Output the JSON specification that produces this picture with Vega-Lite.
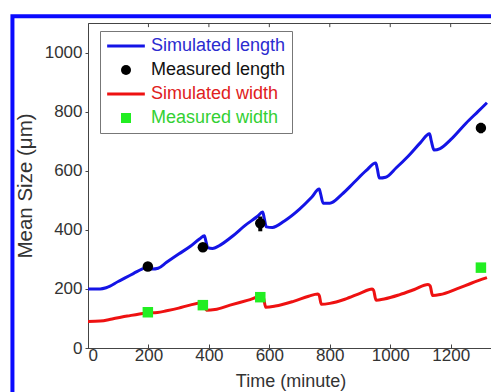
{
  "$schema": "https://vega.github.io/schema/vega-lite/v6.json",
  "autosize": {"type": "none"},
  "padding": {"left": 88, "top": 23, "right": 0, "bottom": 44},
  "width": 405,
  "height": 325,
  "background": "white",
  "config": {
    "view": {"stroke": "#444", "strokeWidth": 1},
    "font": "Liberation Sans"
  },
  "datasets": {
    "sim": [
      {"t": 0, "v": 200, "series": "Simulated length"},
      {"t": 40, "v": 200, "series": "Simulated length"},
      {"t": 60, "v": 204, "series": "Simulated length"},
      {"t": 100, "v": 225, "series": "Simulated length"},
      {"t": 150, "v": 252, "series": "Simulated length"},
      {"t": 190, "v": 272, "series": "Simulated length"},
      {"t": 200, "v": 275, "series": "Simulated length"},
      {"t": 212, "v": 267, "series": "Simulated length"},
      {"t": 232, "v": 270, "series": "Simulated length"},
      {"t": 260, "v": 290, "series": "Simulated length"},
      {"t": 300, "v": 318, "series": "Simulated length"},
      {"t": 340, "v": 345, "series": "Simulated length"},
      {"t": 370, "v": 370, "series": "Simulated length"},
      {"t": 385, "v": 380, "series": "Simulated length"},
      {"t": 390, "v": 362, "series": "Simulated length"},
      {"t": 396, "v": 340, "series": "Simulated length"},
      {"t": 412, "v": 337, "series": "Simulated length"},
      {"t": 440, "v": 350, "series": "Simulated length"},
      {"t": 480, "v": 380, "series": "Simulated length"},
      {"t": 520, "v": 415, "series": "Simulated length"},
      {"t": 560, "v": 445, "series": "Simulated length"},
      {"t": 578, "v": 460, "series": "Simulated length"},
      {"t": 583, "v": 440, "series": "Simulated length"},
      {"t": 590, "v": 410, "series": "Simulated length"},
      {"t": 610, "v": 408, "series": "Simulated length"},
      {"t": 650, "v": 430, "series": "Simulated length"},
      {"t": 700, "v": 470, "series": "Simulated length"},
      {"t": 740, "v": 510, "series": "Simulated length"},
      {"t": 765, "v": 538, "series": "Simulated length"},
      {"t": 770, "v": 520, "series": "Simulated length"},
      {"t": 778, "v": 490, "series": "Simulated length"},
      {"t": 800, "v": 490, "series": "Simulated length"},
      {"t": 840, "v": 520, "series": "Simulated length"},
      {"t": 880, "v": 560, "series": "Simulated length"},
      {"t": 920, "v": 600, "series": "Simulated length"},
      {"t": 952, "v": 626, "series": "Simulated length"},
      {"t": 957, "v": 608, "series": "Simulated length"},
      {"t": 964, "v": 575, "series": "Simulated length"},
      {"t": 985, "v": 578, "series": "Simulated length"},
      {"t": 1020, "v": 610, "series": "Simulated length"},
      {"t": 1060, "v": 650, "series": "Simulated length"},
      {"t": 1100, "v": 695, "series": "Simulated length"},
      {"t": 1130, "v": 725, "series": "Simulated length"},
      {"t": 1136, "v": 700, "series": "Simulated length"},
      {"t": 1145, "v": 670, "series": "Simulated length"},
      {"t": 1165, "v": 675, "series": "Simulated length"},
      {"t": 1200, "v": 705, "series": "Simulated length"},
      {"t": 1250, "v": 760, "series": "Simulated length"},
      {"t": 1290, "v": 800, "series": "Simulated length"},
      {"t": 1320, "v": 830, "series": "Simulated length"},
      {"t": 0, "v": 90, "series": "Simulated width"},
      {"t": 40, "v": 91, "series": "Simulated width"},
      {"t": 80, "v": 98, "series": "Simulated width"},
      {"t": 130, "v": 108, "series": "Simulated width"},
      {"t": 190, "v": 118, "series": "Simulated width"},
      {"t": 230, "v": 120, "series": "Simulated width"},
      {"t": 260, "v": 126, "series": "Simulated width"},
      {"t": 300, "v": 135, "series": "Simulated width"},
      {"t": 340, "v": 146, "series": "Simulated width"},
      {"t": 375, "v": 152, "series": "Simulated width"},
      {"t": 383, "v": 150, "series": "Simulated width"},
      {"t": 392, "v": 128, "series": "Simulated width"},
      {"t": 420, "v": 130, "series": "Simulated width"},
      {"t": 470, "v": 145, "series": "Simulated width"},
      {"t": 530, "v": 162, "series": "Simulated width"},
      {"t": 575, "v": 175, "series": "Simulated width"},
      {"t": 580, "v": 172, "series": "Simulated width"},
      {"t": 588, "v": 138, "series": "Simulated width"},
      {"t": 620, "v": 142, "series": "Simulated width"},
      {"t": 680, "v": 158, "series": "Simulated width"},
      {"t": 730, "v": 175, "series": "Simulated width"},
      {"t": 760, "v": 183, "series": "Simulated width"},
      {"t": 765, "v": 178, "series": "Simulated width"},
      {"t": 772, "v": 148, "series": "Simulated width"},
      {"t": 800, "v": 151, "series": "Simulated width"},
      {"t": 850, "v": 165, "series": "Simulated width"},
      {"t": 900, "v": 185, "series": "Simulated width"},
      {"t": 940, "v": 200, "series": "Simulated width"},
      {"t": 945, "v": 195, "series": "Simulated width"},
      {"t": 953, "v": 162, "series": "Simulated width"},
      {"t": 980, "v": 166, "series": "Simulated width"},
      {"t": 1030, "v": 180, "series": "Simulated width"},
      {"t": 1080, "v": 198, "series": "Simulated width"},
      {"t": 1125, "v": 215, "series": "Simulated width"},
      {"t": 1132, "v": 210, "series": "Simulated width"},
      {"t": 1140, "v": 178, "series": "Simulated width"},
      {"t": 1165, "v": 181, "series": "Simulated width"},
      {"t": 1220, "v": 200, "series": "Simulated width"},
      {"t": 1270, "v": 220, "series": "Simulated width"},
      {"t": 1320, "v": 238, "series": "Simulated width"}
    ],
    "meas": [
      {"t": 198, "v": 276, "lo": 270, "hi": 282, "series": "Measured length"},
      {"t": 380, "v": 341, "lo": 336, "hi": 346, "series": "Measured length"},
      {"t": 570, "v": 422, "lo": 395, "hi": 445, "series": "Measured length"},
      {"t": 1300, "v": 745, "lo": 727, "hi": 762, "series": "Measured length"},
      {"t": 198, "v": 121, "series": "Measured width"},
      {"t": 380, "v": 145, "series": "Measured width"},
      {"t": 570, "v": 172, "series": "Measured width"},
      {"t": 1300, "v": 272, "series": "Measured width"}
    ],
    "topticks": [
      {"tick": 200}, {"tick": 400}, {"tick": 600}, {"tick": 800}, {"tick": 1000}, {"tick": 1200}
    ]
  },
  "layer": [
    {
      "data": {"name": "sim"},
      "mark": {"type": "line", "strokeWidth": 3, "interpolate": "monotone"},
      "encoding": {
        "x": {"field": "t", "type": "quantitative", "scale": {"domain": [0, 1340], "nice": false, "zero": false},
              "axis": {"title": "Time (minute)", "values": [0, 200, 400, 600, 800, 1000, 1200], "format": "d", "grid": false,
                       "tickSize": -4, "tickColor": "#444", "domainColor": "#444", "labelFontSize": 17, "labelColor": "#333",
                       "labelPadding": 3, "titleFontSize": 18, "titleFontWeight": "normal", "titleColor": "#333", "titlePadding": 9}},
        "y": {"field": "v", "type": "quantitative", "scale": {"domain": [0, 1100], "nice": false},
              "axis": {"title": "Mean Size (μm)", "values": [0, 200, 400, 600, 800, 1000], "format": "d", "grid": false,
                       "tickSize": 3, "tickColor": "#444", "domainColor": "#444", "labelFontSize": 17, "labelColor": "#333",
                       "labelPadding": 3, "titleFontSize": 20.5, "titleFontWeight": "normal", "titleColor": "#333", "titlePadding": 9}},
        "detail": {"field": "series"},
        "color": {"field": "series", "type": "nominal",
                  "scale": {"domain": ["Simulated length", "Measured length", "Simulated width", "Measured width"],
                            "range": ["#1414e6", "#000000", "#ee1111", "#22ee22"]},
                  "legend": {
                    "title": null, "orient": "none", "legendX": 12, "legendY": 8,
                    "labelFontSize": 18, "labelFont": "Liberation Sans", "labelOffset": 27,
                    "strokeColor": "#777", "fillColor": "white", "padding": 6, "rowPadding": 6,
                    "symbolStrokeWidth": 3,
                    "encode": {
                      "symbols": {"update": {
                        "shape": {"signal": "datum.value == 'Simulated length' || datum.value == 'Simulated width' ? 'stroke' : datum.value == 'Measured length' ? 'circle' : 'square'"},
                        "size": {"signal": "datum.value == 'Simulated length' || datum.value == 'Simulated width' ? 1420 : 100"},
                        "x": {"value": 20},
                        "stroke": {"signal": "scale('color', datum.value)"},
                        "fill": {"signal": "scale('color', datum.value)"},
                        "strokeWidth": {"signal": "datum.value == 'Simulated length' || datum.value == 'Simulated width' ? 3 : 0"},
                        "opacity": {"value": 1}
                      }},
                      "labels": {"update": {
                        "fill": {"signal": "datum.value == 'Simulated length' ? '#2b2bd0' : datum.value == 'Measured length' ? '#111111' : datum.value == 'Simulated width' ? '#e02020' : '#33d033'"}
                      }}
                    }
                  }}
      }
    },
    {
      "data": {"name": "meas"},
      "transform": [{"filter": "isValid(datum.lo)"}],
      "mark": {"type": "rule", "strokeWidth": 4, "color": "black"},
      "encoding": {
        "x": {"field": "t", "type": "quantitative"},
        "y": {"field": "lo", "type": "quantitative"},
        "y2": {"field": "hi"}
      }
    },
    {
      "data": {"name": "meas"},
      "mark": {"type": "point", "filled": true, "opacity": 1, "size": 110},
      "encoding": {
        "x": {"field": "t", "type": "quantitative"},
        "y": {"field": "v", "type": "quantitative"},
        "color": {"field": "series", "type": "nominal"},
        "shape": {"field": "series", "type": "nominal", "legend": null,
                  "scale": {"domain": ["Measured length", "Measured width"], "range": ["circle", "square"]}}
      }
    },
    {
      "data": {"name": "topticks"},
      "mark": {"type": "rule", "color": "#444", "strokeWidth": 1},
      "encoding": {
        "x": {"field": "tick", "type": "quantitative"},
        "y": {"datum": 1100, "type": "quantitative"},
        "y2": {"datum": 1086}
      }
    },
    {
      "data": {"values": [{"frame": "border"}]},
      "mark": {"type": "rect", "filled": false, "color": "#0a0aff", "strokeWidth": 4, "clip": false},
      "encoding": {
        "x": {"datum": -250, "type": "quantitative"},
        "x2": {"datum": 1500},
        "y": {"datum": 1123, "type": "quantitative"},
        "y2": {"datum": -200}
      }
    }
  ]
}
